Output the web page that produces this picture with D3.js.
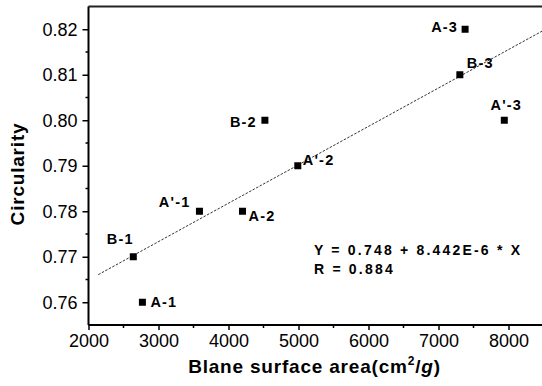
<!DOCTYPE html>
<html>
<head>
<meta charset="utf-8">
<script src="https://cdn.jsdelivr.net/npm/d3@7"></script>
<style>
  html, body { margin: 0; padding: 0; background: #fff; }
  svg { display: block; }
  text { font-family: "Liberation Sans", Arial, sans-serif; fill: #000; }
</style>
</head>
<body>
<svg id="chart" width="542" height="386"></svg>
<script>
// ---- data ----
const sampleNames = ["A-1", "A'-1", "A-2", "B-1", "B-2", "A'-2", "B-3", "A-3", "A'-3"];
const surfaceArea = [2770, 3585, 4200, 2640, 4520, 4990, 7305, 7380, 7940];
const circularity = [0.76, 0.78, 0.78, 0.77, 0.80, 0.79, 0.81, 0.82, 0.80];
const xTickValues = [2000, 3000, 4000, 5000, 6000, 7000, 8000];
const yTickValues = [0.76, 0.77, 0.78, 0.79, 0.80, 0.81, 0.82];
const fitIntercept = 0.748;
const fitSlope = 8.442e-6;
const fitXExtent = [2140, 8500];
const equationLines = ["Y = 0.748 + 8.442E-6 * X", "R = 0.884"];

// ---- label placement (styles) ----
const labelPos = {
  "A-1":  {dx: 8,   dy: 5,   anchor: "start"},
  "A'-1": {dx: -9,  dy: -4,  anchor: "end"},
  "A-2":  {dx: 6,   dy: 10,  anchor: "start"},
  "B-1":  {dx: -13, dy: -13, anchor: "middle"},
  "B-2":  {dx: -8,  dy: 7,   anchor: "end"},
  "A'-2": {dx: 5,   dy: -1,  anchor: "start"},
  "B-3":  {dx: 7,   dy: -7,  anchor: "start"},
  "A-3":  {dx: -7,  dy: 3,   anchor: "end"},
  "A'-3": {dx: 2,   dy: -10, anchor: "middle"}
};

const svg = d3.select("#chart");
const x = d3.scaleLinear().domain([2000, 8500]).range([88.5, 543.5]);
const y = d3.scaleLinear().domain([0.755, 0.825]).range([325, 6.5]);

// fit line
const fitData = fitXExtent.map(v => [v, fitIntercept + fitSlope * v]);
svg.append("path")
  .datum(fitData)
  .attr("d", d3.line().x(d => x(d[0])).y(d => y(d[1])))
  .attr("fill", "none")
  .attr("stroke", "#333")
  .attr("stroke-width", 1)
  .attr("stroke-dasharray", "2.5,1.5");

// top frame line
svg.append("line")
  .attr("x1", x(2000)).attr("x2", 542)
  .attr("y1", y(0.825)).attr("y2", y(0.825))
  .attr("stroke", "#222").attr("stroke-width", 2);

// x axis
const xMinor = d3.range(2500, 8500, 1000);
const gx = svg.append("g").attr("transform", `translate(0,${y(0.755)})`);
gx.call(d3.axisBottom(x).tickValues(xTickValues).tickSize(5).tickPadding(4).tickFormat(d3.format("d")))
  .call(g => g.select(".domain").attr("stroke-width", 2).attr("d", `M${x(2000)},0H542`))
  .call(g => g.selectAll(".tick line").attr("stroke-width", 1.5))
  .call(g => g.selectAll(".tick text").attr("font-size", 18).attr("font-family", "Liberation Sans, Arial, sans-serif"));
gx.selectAll(".minor").data(xMinor).join("line")
  .attr("x1", d => x(d)).attr("x2", d => x(d)).attr("y1", 0).attr("y2", 3)
  .attr("stroke", "#000").attr("stroke-width", 1.5);

// y axis
const yMinor = d3.range(0.765, 0.825, 0.01);
const gy = svg.append("g").attr("transform", `translate(${x(2000)},0)`);
gy.call(d3.axisLeft(y).tickValues(yTickValues).tickSize(6).tickPadding(5).tickFormat(d3.format(".2f")))
  .call(g => g.select(".domain").attr("stroke-width", 2).attr("d", `M0,${y(0.755)}V${y(0.825)}`))
  .call(g => g.selectAll(".tick line").attr("stroke-width", 1.5))
  .call(g => g.selectAll(".tick text").attr("font-size", 18).attr("font-family", "Liberation Sans, Arial, sans-serif"));
gy.selectAll(".minor").data(yMinor).join("line")
  .attr("x1", 0).attr("x2", -3).attr("y1", d => y(d)).attr("y2", d => y(d))
  .attr("stroke", "#000").attr("stroke-width", 1.5);

// points
const pts = sampleNames.map((n, i) => ({name: n, xv: surfaceArea[i], yv: circularity[i]}));
const ms = 7;
svg.selectAll("rect.pt").data(pts).join("rect")
  .attr("class", "pt")
  .attr("x", d => x(d.xv) - ms / 2)
  .attr("y", d => y(d.yv) - ms / 2)
  .attr("width", ms).attr("height", ms)
  .attr("fill", "#000");

svg.selectAll("text.lbl").data(pts).join("text")
  .attr("class", "lbl")
  .attr("x", d => x(d.xv) + labelPos[d.name].dx)
  .attr("y", d => y(d.yv) + labelPos[d.name].dy)
  .attr("text-anchor", d => labelPos[d.name].anchor)
  .attr("font-size", 14.5)
  .attr("font-weight", "bold")
  .attr("letter-spacing", 1.2)
  .text(d => d.name);

// equation
svg.selectAll("text.eq").data(equationLines).join("text")
  .attr("class", "eq")
  .attr("x", 314)
  .attr("y", (d, i) => 255 + i * 18.5)
  .attr("font-size", 14)
  .attr("font-weight", "bold")
  .attr("letter-spacing", 2.2)
  .text(d => d);

// axis titles
const xt = svg.append("text")
  .attr("x", 314.5).attr("y", 373)
  .attr("text-anchor", "middle")
  .attr("font-size", 19).attr("font-weight", "bold")
  .attr("letter-spacing", 0.8);
xt.append("tspan").text("Blane surface area(cm");
xt.append("tspan").attr("font-size", 12).attr("dy", -8).text("2");
xt.append("tspan").attr("dy", 8).text("/");
xt.append("tspan").attr("font-style", "italic").text("g");
xt.append("tspan").text(")");

svg.append("text")
  .attr("transform", "translate(23.5,174) rotate(-90)")
  .attr("text-anchor", "middle")
  .attr("font-size", 19).attr("font-weight", "bold")
  .attr("letter-spacing", 0.8)
  .text("Circularity");
</script>
</body>
</html>
